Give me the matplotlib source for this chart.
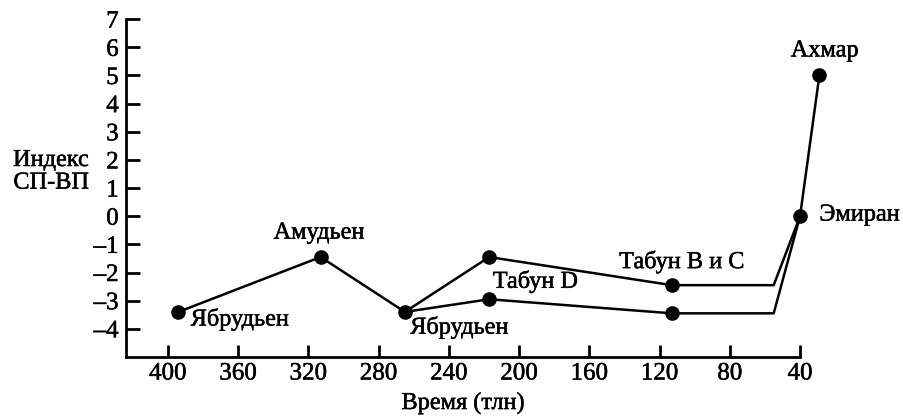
import matplotlib.pyplot as plt
import matplotlib.patheffects as pe

plt.rcParams['font.family'] = ['Liberation Serif', 'DejaVu Serif']

# верхняя линия
t_upper = [394, 313, 265, 217, 113, 55, 40, 29]
idx_upper = [-3.4, -1.45, -3.4, -1.45, -2.45, -2.45, 0, 5]
# нижняя линия
t_lower = [265, 217, 113, 55, 40]
idx_lower = [-3.4, -2.95, -3.45, -3.45, 0]

# точки с маркерами
t_pts = [394, 313, 265, 217, 217, 113, 113, 40, 29]
idx_pts = [-3.4, -1.45, -3.4, -1.45, -2.95, -2.45, -3.45, 0, 5]

x_ticks = [400, 360, 320, 280, 240, 200, 160, 120, 80, 40]
y_ticks = [-4, -3, -2, -1, 0, 1, 2, 3, 4, 5, 6, 7]
y_ticklabels = ['–4', '–3', '–2', '–1', '0', '1', '2', '3', '4', '5', '6', '7']

fs = 17.5
bold = [pe.withStroke(linewidth=0.35, foreground='black')]

fig = plt.figure(figsize=(9.04, 4.17), dpi=100)
ax = fig.add_axes([0.139, 0.144, 0.746, 0.810])

ax.plot(t_upper, idx_upper, color='black', lw=1.8, clip_on=False)
ax.plot(t_lower, idx_lower, color='black', lw=1.8, clip_on=False)
ax.plot(t_pts, idx_pts, 'o', color='black', ms=9.5, clip_on=False)

ax.set_xlim(424, 40)
ax.set_ylim(-5, 7)
ax.set_xticks(x_ticks)
ax.set_xticklabels([str(v) for v in x_ticks])
ax.set_yticks(y_ticks)
ax.set_yticklabels(y_ticklabels)

for s in ['top', 'right']:
    ax.spines[s].set_visible(False)
for s in ['left', 'bottom']:
    ax.spines[s].set_linewidth(2)

ax.tick_params(axis='y', direction='in', length=10, width=2, labelsize=18, pad=5)
ax.tick_params(axis='x', direction='in', length=9, width=2, labelsize=18, pad=4)
for lbl in ax.get_xticklabels() + ax.get_yticklabels():
    lbl.set_path_effects(bold)

ax.set_xlabel('Время (тлн)', fontsize=fs, labelpad=6, path_effects=bold)
fig.text(0.098, 0.588, 'Индекс\nСП-ВП', fontsize=fs, ha='right', va='center',
         multialignment='right', linespacing=1.1, path_effects=bold)

notes = [
    (387, -3.67, 'Ябрудьен', 'left'),
    (314, -0.6, 'Амудьен', 'center'),
    (262, -3.96, 'Ябрудьен', 'left'),
    (215, -2.33, 'Табун D', 'left'),
    (143, -1.63, 'Табун B и C', 'left'),
    (29, 0.04, 'Эмиран', 'left'),
    (26, 5.87, 'Ахмар', 'center'),
]
for x, y, s, ha in notes:
    ax.text(x, y, s, fontsize=fs, va='center', ha=ha, clip_on=False,
            path_effects=bold)

fig.savefig('out.png', dpi=100)
